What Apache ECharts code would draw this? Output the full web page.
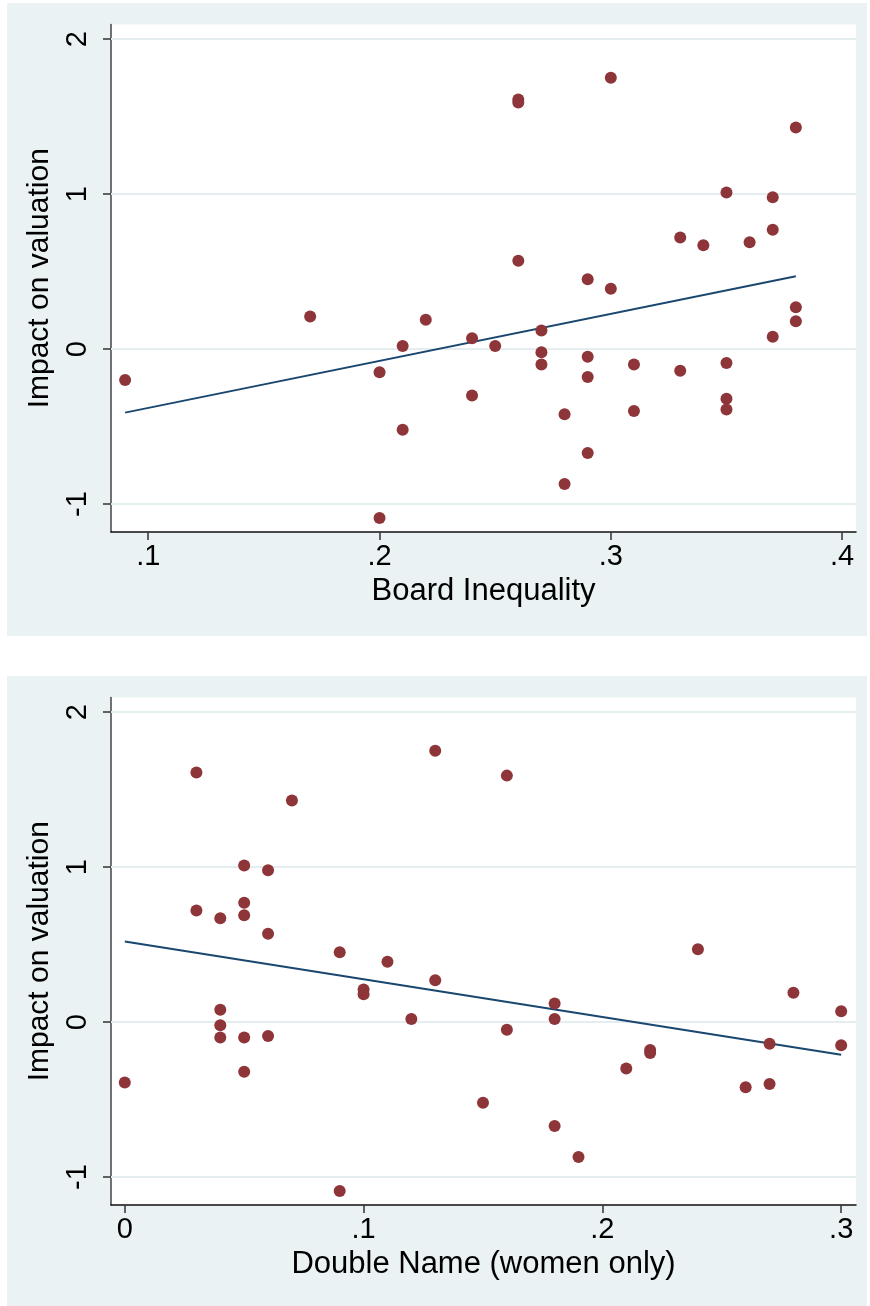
<!DOCTYPE html>
<html>
<head>
<meta charset="utf-8">
<script src="https://cdn.jsdelivr.net/npm/echarts@6/dist/echarts.min.js"></script>
<style>
  html, body { margin: 0; padding: 0; background: #ffffff; width: 870px; height: 1306px; overflow: hidden; }
  .panel { position: absolute; left: 7px; width: 860px; height: 633px; background: #EAF2F3; }
  #c1 { top: 3px; }
  #c2 { top: 676px; }
</style>
</head>
<body>
<div id="c1" class="panel"></div>
<div id="c2" class="panel"></div>
<script>
// ---- Data ----
const yTicks = [-1, 0, 1, 2];

// Panel 1: Board Inequality
const boardX = [0.09, 0.17, 0.20, 0.20, 0.21, 0.21, 0.22, 0.24, 0.24, 0.25,
                0.26, 0.26, 0.26, 0.27, 0.27, 0.27, 0.28, 0.28, 0.29, 0.29,
                0.29, 0.29, 0.30, 0.30, 0.31, 0.31, 0.33, 0.33, 0.34, 0.35,
                0.35, 0.35, 0.35, 0.36, 0.37, 0.37, 0.37, 0.38, 0.38, 0.38];
const boardY = [-0.20, 0.21, -0.15, -1.09, 0.02, -0.52, 0.19, 0.07, -0.30, 0.02,
                1.61, 1.59, 0.57, 0.12, -0.02, -0.10, -0.42, -0.87, 0.45, -0.05,
                -0.18, -0.67, 1.75, 0.39, -0.10, -0.40, 0.72, -0.14, 0.67, 1.01,
                -0.09, -0.32, -0.39, 0.69, 0.98, 0.77, 0.08, 1.43, 0.27, 0.18];
const boardFitX = [0.09, 0.38];
const boardFitY = [-0.41, 0.47];
const boardTicks = [0.1, 0.2, 0.3, 0.4];

// Panel 2: Double Name (women only)
const dnX = [0.00, 0.03, 0.03, 0.04, 0.04, 0.04, 0.04, 0.05, 0.05, 0.05,
             0.05, 0.05, 0.06, 0.06, 0.06, 0.07, 0.09, 0.09, 0.10, 0.10,
             0.11, 0.12, 0.13, 0.13, 0.15, 0.16, 0.16, 0.18, 0.18, 0.18,
             0.19, 0.21, 0.22, 0.22, 0.24, 0.26, 0.27, 0.27, 0.28, 0.30, 0.30];
const dnY = [-0.39, 1.61, 0.72, 0.67, 0.08, -0.02, -0.10, 1.01, 0.77, 0.69,
             -0.10, -0.32, 0.98, 0.57, -0.09, 1.43, 0.45, -1.09, 0.21, 0.18,
             0.39, 0.02, 1.75, 0.27, -0.52, 1.59, -0.05, 0.12, 0.02, -0.67,
             -0.87, -0.30, -0.18, -0.20, 0.47, -0.42, -0.14, -0.40, 0.19, 0.07, -0.15];
const dnFitX = [0.00, 0.30];
const dnFitY = [0.52, -0.21];
const dnTicks = [0, 0.1, 0.2, 0.3];

// ---- Styling ----
const FONT = 'Liberation Sans, Arial, Helvetica, sans-serif';
const DOT = '#8E3539';
const FIT = '#1A476F';
const GRIDC = '#E4EDEF';

function fmtX(v) {
  if (Math.abs(v) < 1e-9) return '0';
  const s = String(Math.round(v * 100) / 100);
  return s.replace(/^0\./, '.').replace(/^-0\./, '-.');
}

function makeOption(xs, ys, fx, fy, xTicks, xMin, xMax, xTitle) {
  const pts = xs.map((x, i) => [x, ys[i]]);
  const fit = fx.map((x, i) => [x, fy[i]]);
  return {
    animation: false,
    backgroundColor: '#EAF2F3',
    grid: {
      left: 104, right: 11, top: 21.5, bottom: 104,
      show: true, backgroundColor: '#ffffff', borderWidth: 0
    },
    xAxis: {
      type: 'value', min: xMin, max: xMax,
      name: xTitle, nameLocation: 'middle', nameGap: 40,
      nameTextStyle: { fontFamily: FONT, fontSize: 31, color: '#000', verticalAlign: 'top' },
      axisLine: { show: true, onZero: false, lineStyle: { color: '#111', width: 1.5 } },
      axisTick: { show: true, length: 8, inside: false, customValues: xTicks, lineStyle: { color: '#333', width: 1.5 } },
      axisLabel: { show: true, customValues: xTicks, margin: 10, fontFamily: FONT, fontSize: 29, color: '#000', formatter: fmtX },
      splitLine: { show: false }
    },
    yAxis: {
      type: 'value', min: -1.18, max: 2.094,
      name: 'Impact on valuation', nameLocation: 'middle', nameGap: 52, nameRotate: 90,
      nameTextStyle: { fontFamily: FONT, fontSize: 30, color: '#000' },
      axisLine: { show: true, onZero: false, lineStyle: { color: '#444', width: 1.5 } },
      axisTick: { show: true, length: 8, inside: false, customValues: yTicks, lineStyle: { color: '#333', width: 1.5 } },
      axisLabel: { show: true, customValues: yTicks, rotate: 90, margin: 19, fontFamily: FONT, fontSize: 29, color: '#000',
                   formatter: v => String(Math.round(v)) },
      splitLine: { show: false }
    },
    series: [
      {
        type: 'line', data: fit, showSymbol: false, symbol: 'none', z: 2,
        lineStyle: { color: FIT, width: 2 },
        markLine: {
          silent: true, symbol: ['none', 'none'], label: { show: false },
          lineStyle: { color: GRIDC, width: 2, type: 'solid' },
          data: yTicks.map(t => ({ yAxis: t })),
          z: 1
        }
      },
      {
        type: 'scatter', data: pts, symbol: 'circle', symbolSize: 12, z: 3,
        itemStyle: { color: DOT, opacity: 1 }
      }
    ]
  };
}

const c1 = echarts.init(document.getElementById('c1'), null, { renderer: 'canvas' });
c1.setOption(makeOption(boardX, boardY, boardFitX, boardFitY, boardTicks, 0.0839, 0.406, 'Board Inequality'));
const c2 = echarts.init(document.getElementById('c2'), null, { renderer: 'canvas' });
c2.setOption(makeOption(dnX, dnY, dnFitX, dnFitY, dnTicks, -0.00577, 0.3062, 'Double Name (women only)'));
</script>
</body>
</html>
